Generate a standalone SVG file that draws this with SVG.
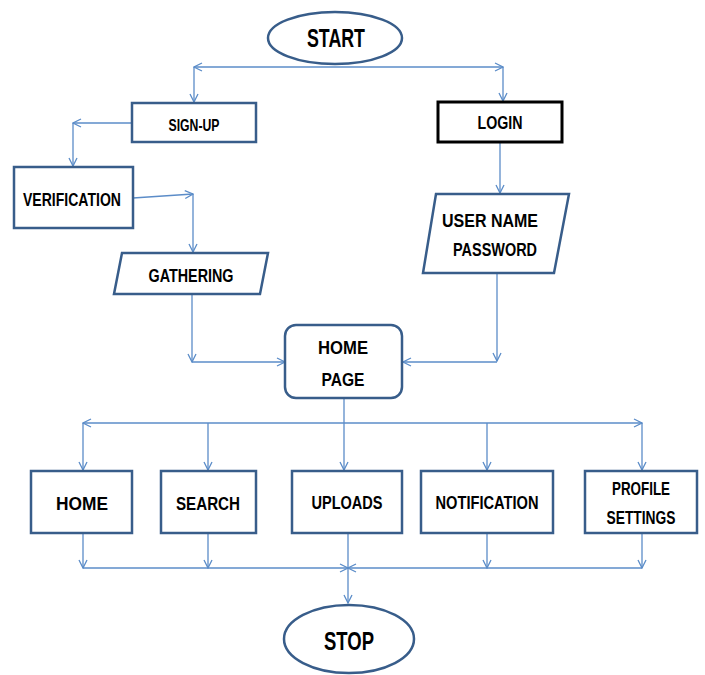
<svg xmlns="http://www.w3.org/2000/svg" width="705" height="675" viewBox="0 0 705 675">
<style>
.box{fill:#fff;stroke:#385D8A;stroke-width:2.5}
.blk{fill:#fff;stroke:#000;stroke-width:3}
.c{fill:none;stroke:#5B8CC8;stroke-width:1.3}
.a{marker-end:url(#ar)}
.b{marker-start:url(#al);marker-end:url(#ar)}
text{font-family:"Liberation Sans",Arial,sans-serif;font-weight:bold;fill:#000;text-anchor:middle}
.t{font-size:19px}
.s{font-size:17px}
.big{font-size:25px}
</style>
<defs>
<marker id="ar" viewBox="0 0 10 10" refX="9" refY="5" markerWidth="10" markerHeight="10" markerUnits="userSpaceOnUse" orient="auto">
<path d="M1,1 L9,5 L1,9" fill="none" stroke="#5B8CC8" stroke-width="1.3"/>
</marker>
<marker id="al" viewBox="0 0 10 10" refX="1" refY="5" markerWidth="10" markerHeight="10" markerUnits="userSpaceOnUse" orient="auto">
<path d="M9,1 L1,5 L9,9" fill="none" stroke="#5B8CC8" stroke-width="1.3"/>
</marker>
</defs>
<g id="connectors">
<path class="c b" d="M194,67 H503"/>
<path class="c a" d="M194,67 V102"/>
<path class="c a" d="M503,67 V101"/>
<path class="c a" d="M132,123 H73"/>
<path class="c a" d="M73,123 V166"/>
<path class="c a" d="M133,198 L193,194"/>
<path class="c a" d="M193,194 V252"/>
<path class="c a" d="M192,294 V362"/>
<path class="c a" d="M192,362 H285"/>
<path class="c a" d="M500,142 V193"/>
<path class="c a" d="M497,273 V361"/>
<path class="c a" d="M497,362 H403"/>
<path class="c a" d="M344,398 V470"/>
<path class="c b" d="M83,423 H642"/>
<path class="c a" d="M83,423 V470"/>
<path class="c a" d="M208,423 V470"/>
<path class="c a" d="M487,423 V470"/>
<path class="c a" d="M642,423 V470"/>
<path class="c a" d="M83,533 V568"/>
<path class="c a" d="M208,533 V568"/>
<path class="c a" d="M487,533 V568"/>
<path class="c a" d="M642,533 V568"/>
<path class="c a" d="M83,568 H348"/>
<path class="c a" d="M642,568 H348"/>
<path class="c a" d="M348,533 V603"/>
</g>
<g id="start"><ellipse class="box" cx="335" cy="38" rx="67" ry="26"/><text class="big" x="336" y="47" textLength="58" lengthAdjust="spacingAndGlyphs">START</text></g>
<g id="signup"><rect class="box" x="132" y="103" width="124" height="39"/><text class="s" x="194" y="131" textLength="51" lengthAdjust="spacingAndGlyphs">SIGN-UP</text></g>
<g id="login"><rect class="blk" x="438" y="102" width="124" height="40"/><text class="t" x="500" y="129" textLength="45" lengthAdjust="spacingAndGlyphs">LOGIN</text></g>
<g id="verification"><rect class="box" x="14" y="167" width="119" height="61"/><text class="t" x="72" y="206" textLength="98" lengthAdjust="spacingAndGlyphs">VERIFICATION</text></g>
<g id="gathering"><polygon class="box" points="122,253 268,253 260,294 114,294"/><text class="t" x="191" y="282" textLength="85" lengthAdjust="spacingAndGlyphs">GATHERING</text></g>
<g id="username"><polygon class="box" points="436,194 569,194 554,273 423,273"/><text class="t" x="490" y="227" textLength="96" lengthAdjust="spacingAndGlyphs">USER NAME</text><text class="t" x="495" y="256" textLength="84" lengthAdjust="spacingAndGlyphs">PASSWORD</text></g>
<g id="homepage"><rect class="box" x="285" y="325" width="117" height="73" rx="11"/><text class="t" x="343" y="354" textLength="50" lengthAdjust="spacingAndGlyphs">HOME</text><text class="t" x="343" y="386" textLength="43" lengthAdjust="spacingAndGlyphs">PAGE</text></g>
<g id="home"><rect class="box" x="31" y="471" width="101" height="62"/><text class="t" x="82" y="510" textLength="52" lengthAdjust="spacingAndGlyphs">HOME</text></g>
<g id="search"><rect class="box" x="161" y="471" width="95" height="62"/><text class="t" x="208" y="510" textLength="64" lengthAdjust="spacingAndGlyphs">SEARCH</text></g>
<g id="uploads"><rect class="box" x="292" y="471" width="110" height="62"/><text class="t" x="347" y="509" textLength="71" lengthAdjust="spacingAndGlyphs">UPLOADS</text></g>
<g id="notification"><rect class="box" x="421" y="471" width="132" height="62"/><text class="t" x="487" y="509" textLength="103" lengthAdjust="spacingAndGlyphs">NOTIFICATION</text></g>
<g id="profile"><rect class="box" x="585" y="471" width="112" height="62"/><text class="t" x="641" y="495" textLength="58" lengthAdjust="spacingAndGlyphs">PROFILE</text><text class="t" x="641" y="524" textLength="69" lengthAdjust="spacingAndGlyphs">SETTINGS</text></g>
<g id="stop"><ellipse class="box" cx="349" cy="639" rx="65" ry="34"/><text class="big" x="349" y="650" textLength="50" lengthAdjust="spacingAndGlyphs">STOP</text></g>
</svg>
